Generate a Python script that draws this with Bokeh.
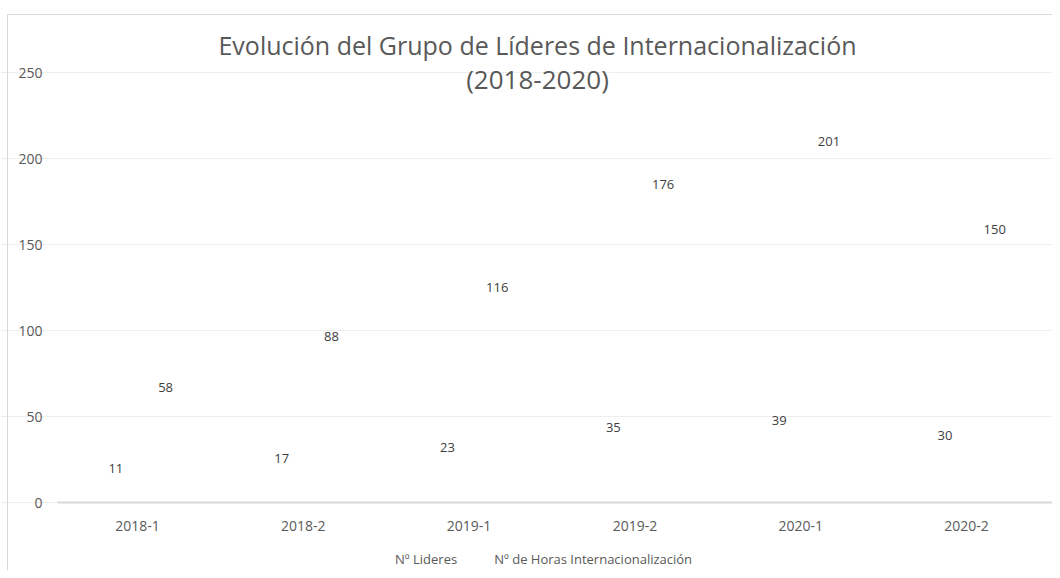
from bokeh.plotting import figure
from bokeh.models import (ColumnDataSource, Range1d, FixedTicker, Label, Legend, LegendItem, LinearAxis)
from bokeh.transform import dodge
from bokeh.core.properties import value
from bokeh.embed import file_html
from bokeh.resources import INLINE

categories = ["2018-1", "2018-2", "2019-1", "2019-2", "2020-1", "2020-2"]
lideres = [11, 17, 23, 35, 39, 30]
horas = [58, 88, 116, 176, 201, 150]
y_ticks = [0, 50, 100, 150, 200, 250]
title_text = "Evolución del Grupo de Líderes de Internacionalización"
subtitle_text = "(2018-2020)"

FONT = "Open Sans"
xs = list(range(len(categories)))
src = ColumnDataSource(dict(
    x=xs, lideres=lideres, horas=horas,
    lid_txt=[str(v) for v in lideres], hor_txt=[str(v) for v in horas],
))

W, H = 1052, 570
PX_X = 165.83   # px per category
PX_Y = 1.72     # px per unit
LEFT = 54       # pixel where the category axis starts
ZERO_Y = 502    # pixel row of value 0


def px_to_x(px):
    return -0.5 + (px - LEFT) / PX_X


def py_to_y(py):
    return (ZERO_Y - py) / PX_Y


p = figure(width=W, height=H, output_backend="svg", toolbar_location=None,
           x_axis_location=None, y_axis_location=None,
           x_range=Range1d(px_to_x(0), px_to_x(W)),
           y_range=Range1d(py_to_y(H), py_to_y(0)),
           min_border_left=0, min_border_right=0, min_border_top=0, min_border_bottom=0)
p.outline_line_color = None
p.background_fill_color = "white"
p.border_fill_color = "white"

# chart area border
p.line(x=[px_to_x(7), px_to_x(7), px_to_x(W)], y=[py_to_y(H), py_to_y(14), py_to_y(14)],
       line_color="#d9d9d9", line_width=1)

r1 = p.vbar(x=dodge("x", -0.13, range=p.x_range), top="lideres", width=0.28, source=src,
            fill_alpha=0, line_alpha=0, fill_color="white")
r2 = p.vbar(x=dodge("x", 0.17, range=p.x_range), top="horas", width=0.28, source=src,
            fill_alpha=0, line_alpha=0, fill_color="white")

for col, txt, dx in (("lideres", "lid_txt", -0.13), ("horas", "hor_txt", 0.17)):
    p.text(x=dodge("x", dx, range=p.x_range), y=col, text=txt, source=src,
           text_align="center", text_baseline="middle", y_offset=-15,
           text_font=value(FONT), text_font_size="13px", text_color="#404040")

# x axis fixed at zero
xaxis = LinearAxis(fixed_location=0, ticker=FixedTicker(ticks=xs),
                   bounds=(px_to_x(57), px_to_x(W)),
                   major_label_overrides={i: c for i, c in enumerate(categories)})
xaxis.axis_line_color = "#d9d9d9"
xaxis.axis_line_width = 2
xaxis.major_tick_line_color = None
xaxis.minor_tick_line_color = None
xaxis.major_label_text_font = FONT
xaxis.major_label_text_font_size = "14px"
xaxis.major_label_text_color = "#595959"
xaxis.major_label_standoff = 12
p.add_layout(xaxis, "below")

# y axis fixed at the left edge of the category axis
yaxis = LinearAxis(fixed_location=-0.5, ticker=FixedTicker(ticks=y_ticks))
yaxis.axis_line_color = None
yaxis.major_tick_line_color = None
yaxis.minor_tick_line_color = None
yaxis.major_label_text_font = FONT
yaxis.major_label_text_font_size = "14px"
yaxis.major_label_text_color = "#595959"
yaxis.major_label_standoff = 6
p.add_layout(yaxis, "left")

p.ygrid.grid_line_color = "#eeeeee"
p.ygrid.grid_line_width = 1
p.ygrid.ticker = FixedTicker(ticks=y_ticks)
p.ygrid.bounds = (px_to_x(57), px_to_x(W))
p.xgrid.grid_line_color = None

# title (inside the frame, above 250)
TX = px_to_x(537)
p.add_layout(Label(x=TX, y=py_to_y(44), text=title_text,
                   text_align="center", text_baseline="middle", text_font=FONT,
                   text_font_size="25px", text_color="#595959"))
p.add_layout(Label(x=TX, y=py_to_y(78), text=subtitle_text,
                   text_align="center", text_baseline="middle", text_font=FONT,
                   text_font_size="26px", text_color="#595959"))

legend = Legend(items=[LegendItem(label="Nº Lideres", renderers=[r1]),
                       LegendItem(label="Nº de Horas Internacionalización", renderers=[r2])],
                orientation="horizontal", location=(380, 2),
                label_text_font=FONT, label_text_font_size="13px", label_text_color="#595959",
                glyph_width=10, glyph_height=10, spacing=22, padding=0, margin=0,
                border_line_color=None, background_fill_alpha=0)
p.add_layout(legend, "center")

open("out.html", "w").write(file_html(p, INLINE))
